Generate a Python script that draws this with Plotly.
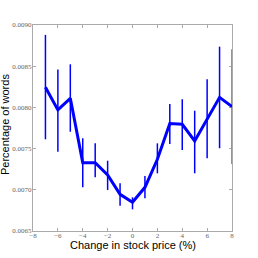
import plotly.graph_objects as go

change_pct = [-7, -6, -5, -4, -3, -2, -1, 0, 1, 2, 3, 4, 5, 6, 7, 8]
pct_words = [0.008244, 0.007969, 0.008110, 0.007329, 0.007329, 0.007180, 0.006945,
             0.006848, 0.007030, 0.007370, 0.007805, 0.007795, 0.007592, 0.007850,
             0.008122, 0.008009]
err_upper = [0.008880, 0.008460, 0.008523, 0.007625, 0.007564, 0.007353, 0.007079,
             0.006909, 0.007167, 0.007564, 0.008041, 0.008098, 0.007960, 0.008341,
             0.008737, 0.008705]
err_lower = [0.007613, 0.007462, 0.007705, 0.007030, 0.007152, 0.006998, 0.006807,
             0.006763, 0.006897, 0.007200, 0.007556, 0.007483, 0.007200, 0.007382,
             0.007504, 0.007313]

x_ticks = [-8, -6, -4, -2, 0, 2, 4, 6, 8]
x_tick_labels = ["\u22128", "\u22126", "\u22124", "\u22122", "0", "2", "4", "6", "8"]
y_ticks = [0.0065, 0.0070, 0.0075, 0.0080, 0.0085, 0.0090]
y_tick_labels = ["0.0065", "0.0070", "0.0075", "0.0080", "0.0085", "0.0090"]

plus = [u - v for u, v in zip(err_upper, pct_words)]
minus = [v - l for v, l in zip(pct_words, err_lower)]

fig = go.Figure()
# error bars for interior points
fig.add_trace(go.Scatter(
    x=change_pct[:-1], y=pct_words[:-1], mode="none",
    error_y=dict(type="data", symmetric=False, array=plus[:-1], arrayminus=minus[:-1],
                 color="#0000ff", thickness=1.5, width=0),
    showlegend=False, hoverinfo="skip",
))
# edge error bar (drawn faded on the spine, as in the reference)
fig.add_trace(go.Scatter(
    x=change_pct[-1:], y=pct_words[-1:], mode="none", cliponaxis=False,
    error_y=dict(type="data", symmetric=False, array=plus[-1:], arrayminus=minus[-1:],
                 color="#8888ee", thickness=2, width=0),
    showlegend=False, hoverinfo="skip",
))
fig.add_trace(go.Scatter(
    x=change_pct, y=pct_words, mode="lines",
    line=dict(color="#0000ff", width=3),
    showlegend=False,
))

axis_common = dict(
    showline=True, linecolor="#aaaaaa", linewidth=1, mirror="ticks",
    ticks="inside", ticklen=3, tickcolor="#aaaaaa", showgrid=False, zeroline=False,
    layer="below traces", automargin=False,
    tickfont=dict(family="Liberation Serif", size=7, color="#666666"),
)

fig.update_layout(
    width=258, height=258,
    margin=dict(l=33, r=26, t=25, b=27),
    paper_bgcolor="white", plot_bgcolor="white",
    xaxis=dict(range=[-8, 8], tickvals=x_ticks, ticktext=x_tick_labels,
               ticklabelstandoff=-2, **axis_common),
    yaxis=dict(range=[0.0065, 0.0090], tickvals=y_ticks, ticktext=y_tick_labels,
               ticklabelstandoff=-1, **axis_common),
    annotations=[
        dict(text="Change in stock price (%)", xref="paper", yref="paper",
             x=0.5, y=0, xanchor="center", yanchor="middle", yshift=-14,
             showarrow=False,
             font=dict(family="Liberation Sans", size=11, color="black")),
        dict(text="Percentage of words", xref="paper", yref="paper",
             x=0, y=0.5, xanchor="center", yanchor="middle", xshift=-28, yshift=3,
             textangle=-90, showarrow=False,
             font=dict(family="Liberation Sans", size=11, color="black")),
    ],
)

fig.write_html("out.html", config={"displayModeBar": False},
               post_script="document.body.style.margin='0';document.body.style.overflow='hidden';")
